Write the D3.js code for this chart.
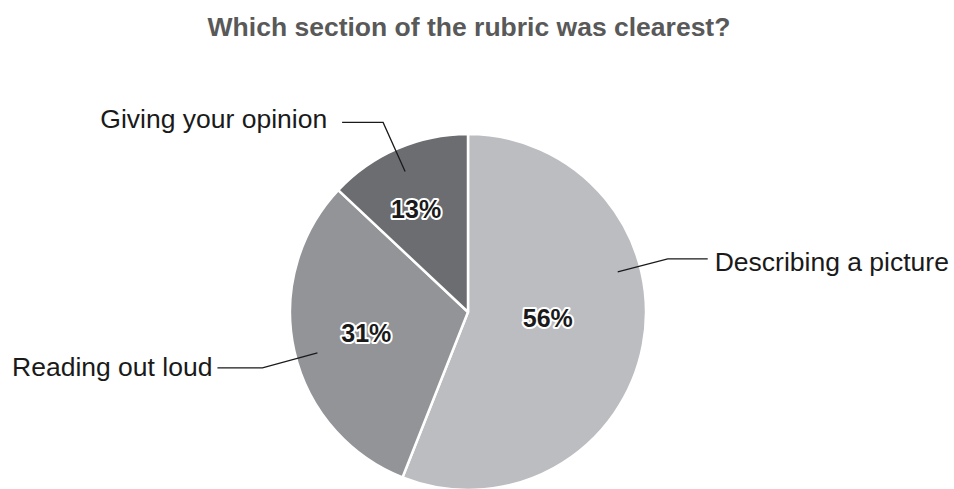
<!DOCTYPE html>
<html>
<head>
<meta charset="utf-8">
<script src="https://cdn.jsdelivr.net/npm/d3@7/dist/d3.min.js"></script>
<style>
  html, body { margin: 0; padding: 0; background: #fff; }
  svg { display: block; font-family: "Liberation Sans", Arial, sans-serif; }
</style>
</head>
<body>
<svg id="chart" width="954" height="489"></svg>
<script>
// Survey responses
const title = "Which section of the rubric was clearest?";
const categories = ["Describing a picture", "Reading out loud", "Giving your opinion"];
const shares = [56, 31, 13];
const sliceColors = ["#bcbdc1", "#939498", "#6c6d71"];

// Layout
const W = 954, H = 489;
const cx = 468, cy = 312, radius = 178;

// Where each percentage sits inside its slice (fraction of the slice's sweep, radius)
const pctPlacement = [
  { t: 0.468, r: 80 },
  { t: 0.505, r: 104 },
  { t: 0.427, r: 115 }
];

// Callout leader lines: anchor inside slice, elbow offset, horizontal run, text gap
const callouts = [
  { t: 0.372, r: 155, elbow: [50, -13], run: 40, side: "right", gap: 7, baseShift: 12 },
  { t: 0.477, r: 156, elbow: [-55, 15], run: -45, side: "left", gap: 5, baseShift: 8 },
  { t: 0.485, r: 154, elbow: [-22, -49], run: -41, side: "left", gap: 15, baseShift: 6 }
];

const svg = d3.select("#chart");

svg.append("text")
  .attr("x", 469)
  .attr("y", 36)
  .attr("text-anchor", "middle")
  .attr("font-size", 26.5)
  .attr("font-weight", "bold")
  .attr("fill", "#595959")
  .text(title);

const pie = d3.pie().sort(null).value(d => d);
const arcs = pie(shares);
const arc = d3.arc().innerRadius(0).outerRadius(radius);

const g = svg.append("g").attr("transform", `translate(${cx},${cy})`);

g.selectAll("path.slice")
  .data(arcs)
  .join("path")
  .attr("class", "slice")
  .attr("d", arc)
  .attr("fill", (d, i) => sliceColors[i])
  .attr("stroke", "#fff")
  .attr("stroke-width", 2.5)
  .attr("stroke-linejoin", "round");

function polar(d, t, r) {
  const a = d.startAngle + t * (d.endAngle - d.startAngle);
  return [r * Math.sin(a), -r * Math.cos(a)];
}

// Leader lines and category labels
arcs.forEach((d, i) => {
  const c = callouts[i];
  const [ax, ay] = polar(d, c.t, c.r);
  const ex = ax + c.elbow[0], ey = ay + c.elbow[1];
  const hx = ex + c.run;
  g.append("polyline")
    .attr("points", [[ax, ay], [ex, ey], [hx, ey]].map(p => p.join(",")).join(" "))
    .attr("fill", "none")
    .attr("stroke", "#1a1a1a")
    .attr("stroke-width", 1.3);
  g.append("text")
    .attr("x", c.side === "right" ? hx + c.gap : hx - c.gap)
    .attr("y", ey + c.baseShift)
    .attr("text-anchor", c.side === "right" ? "start" : "end")
    .attr("font-size", 26.5)
    .attr("fill", "#1a1a1a")
    .text(categories[i]);
});

// Percentage labels
g.selectAll("text.pct")
  .data(arcs)
  .join("text")
  .attr("class", "pct")
  .attr("x", (d, i) => polar(d, pctPlacement[i].t, pctPlacement[i].r)[0])
  .attr("y", (d, i) => polar(d, pctPlacement[i].t, pctPlacement[i].r)[1])
  .attr("dy", "0.35em")
  .attr("text-anchor", "middle")
  .attr("font-size", 25)
  .attr("font-weight", "bold")
  .attr("fill", "#1a1a1a")
  .attr("stroke", "#fff")
  .attr("stroke-width", 4)
  .attr("stroke-linejoin", "round")
  .attr("paint-order", "stroke")
  .text(d => d.data + "%");
</script>
</body>
</html>
